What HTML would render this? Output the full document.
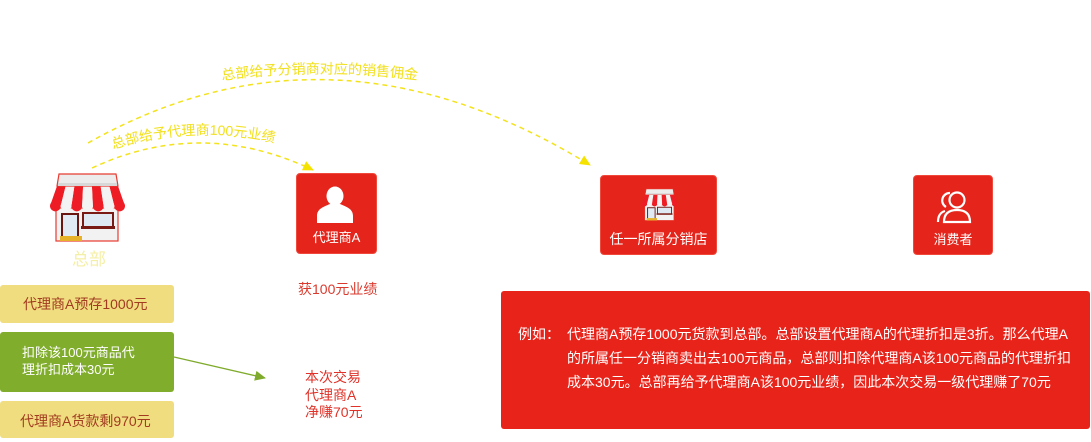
<!DOCTYPE html>
<html><head><meta charset="utf-8">
<style>
*{margin:0;padding:0;box-sizing:border-box}
html,body{width:1091px;height:442px;overflow:hidden;background:#fff}
body{position:relative;font-family:"Liberation Sans","Noto Sans CJK SC",sans-serif}
.abs{position:absolute;white-space:nowrap}
.rbox{position:absolute;background:#e5251b;border:1px solid #f0493b;border-radius:4px}
.lbl{position:absolute;white-space:nowrap;color:#fff;text-align:center}
</style></head><body>

<div class="rbox" style="left:296px;top:173px;width:81px;height:81px"></div>
<div class="lbl" style="left:296px;top:229px;width:81px;line-height:17px;font-size:13px">代理商A</div>

<div class="rbox" style="left:600px;top:175px;width:117px;height:80px"></div>
<div class="lbl" style="left:600px;top:231px;width:117px;line-height:17px;font-size:14px">任一所属分销店</div>

<div class="rbox" style="left:913px;top:175px;width:80px;height:80px"></div>
<div class="lbl" style="left:913px;top:231px;width:80px;line-height:17px;font-size:13px">消费者</div>

<div class="abs" style="left:54px;top:250px;width:70px;text-align:center;line-height:19px;font-size:17px;color:#f4efa6">总部</div>

<div class="abs" style="left:298px;top:281px;line-height:17px;font-size:14px;color:#da3a2e">获100元业绩</div>
<div class="abs" style="left:305px;top:369px;line-height:17.5px;font-size:14px;color:#e03228">本次交易<br>代理商A<br>净赚70元</div>

<div class="abs" style="left:0;top:285px;width:174px;height:38px;background:#f0dd80;border-radius:3px;padding-left:23px;line-height:38px;font-size:14px;color:#a23b1f">代理商A预存1000元</div>
<div class="abs" style="left:0;top:332px;width:174px;height:60px;background:#80ad2c;border-radius:3px;padding-left:22px;padding-top:12px;line-height:17px;font-size:13px;color:#fff">扣除该100元商品代<br>理折扣成本30元</div>
<div class="abs" style="left:0;top:401px;width:174px;height:37px;background:#f0dd80;border-radius:3px;padding-left:20px;padding-top:2px;line-height:37px;font-size:14px;color:#a23b1f">代理商A货款剩970元</div>

<div class="abs" style="left:501px;top:291px;width:589px;height:138px;background:#e8231a;border-radius:3px"></div>
<div class="abs" style="left:518px;top:322px;line-height:24px;font-size:14px;color:#fff">例如：</div>
<div class="abs" style="left:567px;top:322px;line-height:24px;font-size:14px;color:#fff">代理商A预存1000元货款到总部。总部设置代理商A的代理折扣是3折。那么代理A<br>的所属任一分销商卖出去100元商品，总部则扣除代理商A该100元商品的代理折扣<br>成本30元。总部再给予代理商A该100元业绩，因此本次交易一级代理赚了70元</div>

<svg class="abs" style="left:0;top:0" width="1091" height="442" viewBox="0 0 1091 442">
 <defs>
  <marker id="ya" markerUnits="userSpaceOnUse" markerWidth="12" markerHeight="12" refX="10" refY="5" orient="auto" viewBox="0 0 12 10"><path d="M0,0 L11,5 L0,10z" fill="#f5e200"/></marker>
  <marker id="ga" markerUnits="userSpaceOnUse" markerWidth="12" markerHeight="12" refX="10" refY="5" orient="auto" viewBox="0 0 12 10"><path d="M0,0 L11,5 L0,10z" fill="#7fab2c"/></marker>
  <g id="shop">
   <rect x="8" y="36" width="62" height="33" fill="#f2f2f2" stroke="#e83a30" stroke-width="1.2"/>
   <rect x="14" y="42" width="16" height="24" fill="#dfeaf5" stroke="#6b1510" stroke-width="2"/>
   <rect x="35" y="41" width="30" height="14" fill="#dfe9f4" stroke="#7a1a14" stroke-width="2"/>
   <rect x="33" y="54" width="34" height="3" fill="#7a1a14"/>
   <rect x="12" y="64" width="22" height="5" fill="#e5b22a"/>
   <g fill="#ee1c24">
    <polygon points="9,14 17.7,14 12.7,34 2,34"/><circle cx="7.35" cy="34" r="5.35"/>
    <polygon points="26.4,14 35.1,14 34.1,34 23.4,34"/><circle cx="28.75" cy="34" r="5.35"/>
    <polygon points="43.9,14 52.6,14 55.6,34 44.9,34"/><circle cx="50.25" cy="34" r="5.35"/>
    <polygon points="61.3,14 70,14 77,34 66.3,34"/><circle cx="71.65" cy="34" r="5.35"/>
   </g>
   <g fill="#f3f3f3">
    <polygon points="17.7,14 26.4,14 23.4,34 12.7,34"/><circle cx="18.05" cy="34" r="5.35"/>
    <polygon points="35.1,14 43.9,14 44.9,34 34.1,34"/><circle cx="39.5" cy="34" r="5.35"/>
    <polygon points="52.6,14 61.3,14 66.3,34 55.6,34"/><circle cx="60.95" cy="34" r="5.35"/>
   </g>
   <path d="M9,14 L11,2 L68,2 L70,14 Z" fill="#ececec" stroke="#e83a30" stroke-width="1.2"/>
   <rect x="10" y="11" width="59" height="3" fill="#d8d8d8"/>
  </g>
 </defs>

 <path d="M88,143 Q331,6 590,165" fill="none" stroke="#f3e21c" stroke-width="1.5" stroke-dasharray="5 4" marker-end="url(#ya)"/>
 <path d="M92,168 Q201.5,117 313,170" fill="none" stroke="#f3e21c" stroke-width="1.5" stroke-dasharray="5 4" marker-end="url(#ya)"/>
 <path id="t1" d="M222,80 Q321,67 420,80" fill="none"/>
 <path id="t2" d="M113,149 Q193.5,124 276,143" fill="none"/>
 <text font-family="Liberation Sans, Noto Sans CJK SC, sans-serif" font-size="14" fill="#f2e01e"><textPath href="#t1">总部给予分销商对应的销售佣金</textPath></text>
 <text font-family="Liberation Sans, Noto Sans CJK SC, sans-serif" font-size="14" fill="#f2e01e"><textPath href="#t2">总部给予代理商100元业绩</textPath></text>

 <line x1="174" y1="357" x2="265" y2="378" stroke="#7fab2c" stroke-width="1.3" marker-end="url(#ga)"/>

 <use href="#shop" transform="translate(48,172)"/>
 <use href="#shop" transform="translate(641,188) scale(0.47)"/>

 <g fill="#fff">
  <ellipse cx="335" cy="196" rx="8.5" ry="9.5"/>
  <path d="M317,223 L317,216 C317,209 323,207 330,204 L340,204 C347,207 353,209 353,216 L353,223 Z"/>
 </g>
 <g fill="none" stroke="#fff" stroke-width="2.2">
  <circle cx="957" cy="200" r="7.5"/>
  <path d="M944,222 Q944,210 957,210 Q970,210 970,222 Z"/>
  <path d="M950,193 A7.5,7.5 0 0 0 946,207"/>
  <path d="M945,211 Q938,213 938,222"/>
 </g>
</svg>
</body></html>
